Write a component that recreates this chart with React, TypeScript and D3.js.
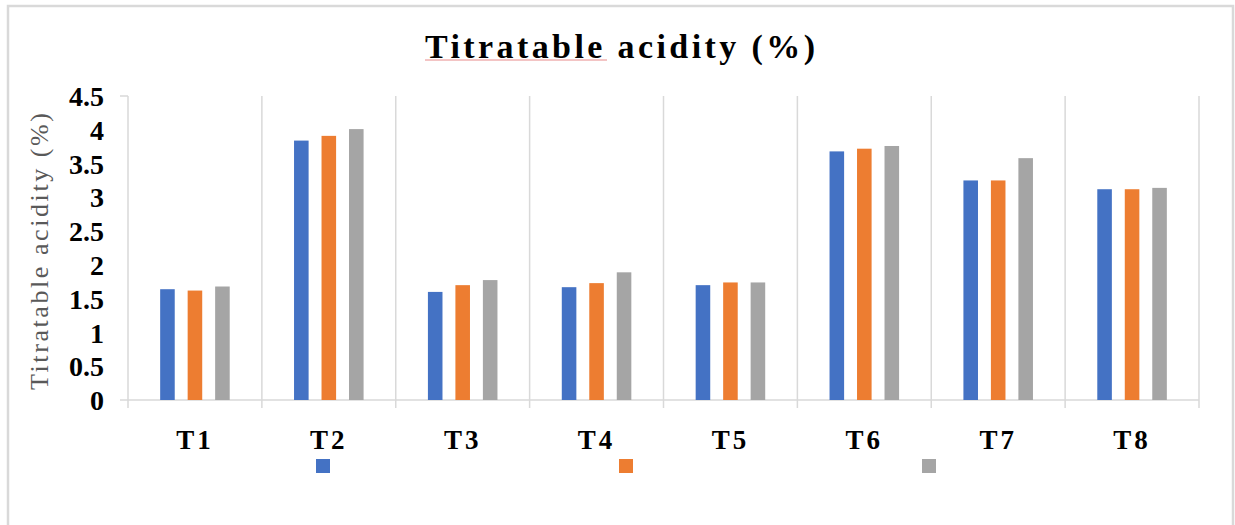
import React, { useEffect, useRef } from 'react';
import * as d3 from 'd3';

const categories = ['T1', 'T2', 'T3', 'T4', 'T5', 'T6', 'T7', 'T8'];
const seriesNames = ['s1', 's2', 's3'];
const legendLabels = ['', '', ''];
const series1 = [1.64, 3.84, 1.6, 1.67, 1.7, 3.68, 3.25, 3.12];
const series2 = [1.62, 3.91, 1.7, 1.73, 1.74, 3.72, 3.25, 3.12];
const series3 = [1.68, 4.01, 1.775, 1.89, 1.74, 3.76, 3.58, 3.14];
const yTicks = [0, 0.5, 1, 1.5, 2, 2.5, 3, 3.5, 4, 4.5];
const colors = ['#4472C4', '#ED7D31', '#A5A5A5'];

const W = 1235;
const H = 525;

export default function App() {
  const ref = useRef<SVGSVGElement>(null);

  useEffect(() => {
    const svg = d3.select(ref.current);
    svg.selectAll('*').remove();

    const grid = '#d9d9d9';
    const serif = '"Liberation Serif", "Times New Roman", serif';

    // chart frame
    svg.append('rect')
      .attr('x', 8).attr('y', 6)
      .attr('width', 1225).attr('height', 540)
      .attr('fill', '#fff')
      .attr('stroke', grid)
      .attr('stroke-width', 2.5);

    const left = 128, right = 1199, top = 96, bottom = 400;

    const x0 = d3.scaleBand<string>().domain(categories).range([left, right]);
    const x1 = d3.scaleBand<string>()
      .domain(seriesNames)
      .range([0, x0.bandwidth()])
      .paddingInner(0.47)
      .paddingOuter(1.17);
    const y = d3.scaleLinear().domain([0, 4.5]).range([bottom, top]);

    // vertical gridlines at category boundaries
    const bounds = categories.map(c => x0(c) as number).concat([right]);
    svg.append('g').selectAll('line')
      .data(bounds)
      .enter().append('line')
      .attr('x1', d => d).attr('x2', d => d)
      .attr('y1', top).attr('y2', bottom + 8)
      .attr('stroke', grid).attr('stroke-width', 1.5);

    // axis lines
    svg.append('line')
      .attr('x1', left).attr('x2', right)
      .attr('y1', bottom).attr('y2', bottom)
      .attr('stroke', grid).attr('stroke-width', 1.5);
    svg.append('line')
      .attr('x1', left - 8).attr('x2', left)
      .attr('y1', y(4.5)).attr('y2', y(4.5))
      .attr('stroke', grid).attr('stroke-width', 1.5);
    svg.append('line')
      .attr('x1', left - 8).attr('x2', left)
      .attr('y1', y(0)).attr('y2', y(0))
      .attr('stroke', grid).attr('stroke-width', 1.5);

    // bars
    const all = [series1, series2, series3];
    all.forEach((vals, si) => {
      svg.append('g').selectAll('rect')
        .data(vals)
        .enter().append('rect')
        .attr('x', (d, i) => (x0(categories[i]) as number) + (x1(seriesNames[si]) as number))
        .attr('y', d => y(d))
        .attr('width', x1.bandwidth())
        .attr('height', d => y(0) - y(d))
        .attr('fill', colors[si]);
    });

    // y tick labels
    svg.append('g').selectAll('text')
      .data(yTicks)
      .enter().append('text')
      .attr('x', 104)
      .attr('y', d => y(d))
      .attr('dy', '0.36em')
      .attr('text-anchor', 'end')
      .style('font-family', serif)
      .style('font-weight', 'bold')
      .style('font-size', '28px')
      .text(d => String(d));

    // x labels
    svg.append('g').selectAll('text')
      .data(categories)
      .enter().append('text')
      .attr('x', d => (x0(d) as number) + x0.bandwidth() / 2)
      .attr('y', 449)
      .attr('text-anchor', 'middle')
      .style('font-family', serif)
      .style('font-weight', 'bold')
      .style('font-size', '27px')
      .style('letter-spacing', '3px')
      .text(d => d);

    // title
    svg.append('text')
      .attr('x', 425)
      .attr('y', 58)
      .attr('textLength', 390)
      .attr('lengthAdjust', 'spacing')
      .style('font-family', serif)
      .style('font-weight', 'bold')
      .style('font-size', '34px')
      .text('Titratable acidity (%)');
    svg.append('line')
      .attr('x1', 425).attr('x2', 607)
      .attr('y1', 60).attr('y2', 60)
      .attr('stroke', '#e88a8a').attr('stroke-width', 1);

    // y axis title
    svg.append('text')
      .attr('transform', `translate(48,${(113 + 390) / 2}) rotate(-90)`)
      .attr('text-anchor', 'middle')
      .attr('textLength', 277)
      .attr('lengthAdjust', 'spacing')
      .style('font-family', serif)
      .style('font-size', '26px')
      .style('fill', '#595959')
      .text('Titratable acidity (%)');

    // legend (unnamed series)
    const lx = d3.scalePoint<string>().domain(seriesNames).range([316, 922]);
    const lg = svg.append('g').selectAll('g')
      .data(seriesNames)
      .enter().append('g')
      .attr('transform', d => `translate(${lx(d)},459)`);
    lg.append('rect')
      .attr('width', 14).attr('height', 14)
      .attr('fill', (d, i) => colors[i]);
    lg.append('text')
      .attr('x', 20).attr('y', 12)
      .style('font-family', serif)
      .style('font-size', '18px')
      .text((d, i) => legendLabels[i]);
  }, []);

  return (
    <div style={{ position: 'absolute', left: 0, top: 0 }}>
      <svg ref={ref} width={W} height={H} viewBox={`0 0 ${W} ${H}`} style={{ display: 'block' }} />
    </div>
  );
}
